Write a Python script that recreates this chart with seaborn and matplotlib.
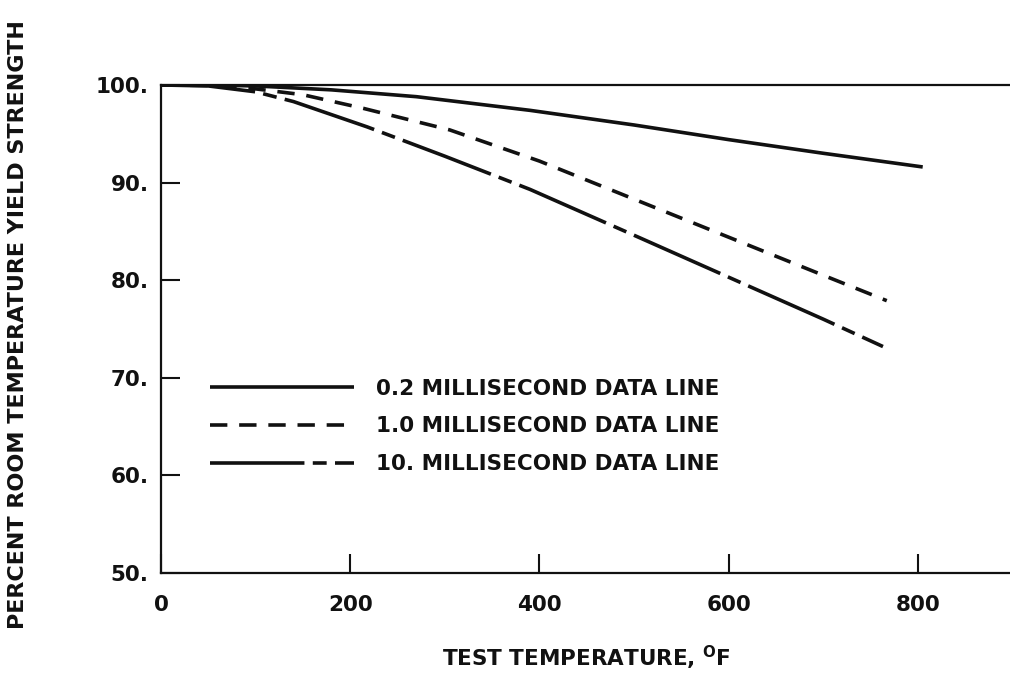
import matplotlib
matplotlib.use("Agg")
import matplotlib.pyplot as plt
import seaborn as sns
import pandas as pd

# Yield strength retained at temperature, for three hold times
temp_02ms = [0, 50, 100, 180, 270, 390, 500, 600, 700, 805]
pct_02ms = [100.0, 100.0, 99.9, 99.5, 98.8, 97.4, 95.9, 94.4, 93.0, 91.6]

temp_1ms = [0, 50, 100, 150, 214, 305, 400, 500, 600, 700, 767]
pct_1ms = [100.0, 99.95, 99.6, 99.0, 97.6, 95.4, 92.2, 88.3, 84.4, 80.5, 77.9]

temp_10ms = [0, 50, 100, 140, 218, 300, 390, 500, 600, 700, 763]
pct_10ms = [100.0, 99.9, 99.3, 98.3, 95.7, 92.7, 89.3, 84.6, 80.3, 76.0, 73.2]

series_labels = ["0.2 MILLISECOND DATA LINE",
                 "1.0 MILLISECOND DATA LINE",
                 "10. MILLISECOND DATA LINE"]
x_ticks = [0, 200, 400, 600, 800]
y_ticks = [50, 60, 70, 80, 90, 100]
y_tick_labels = ["50.", "60.", "70.", "80.", "90.", "100."]

sns.set_style("ticks")
plt.rcParams["font.family"] = ["DejaVu Sans"]
plt.rcParams["font.weight"] = "bold"
plt.rcParams["lines.scale_dashes"] = False
plt.rcParams["mathtext.fontset"] = "custom"
plt.rcParams["mathtext.bf"] = "DejaVu Sans:bold"
plt.rcParams["mathtext.rm"] = "DejaVu Sans:bold"

FS = 15.5
INK = "#111111"

fig = plt.figure(figsize=(10.10, 6.76), dpi=100)
fig.patch.set_facecolor("white")
ax = fig.add_axes([161 / 1010, 0.1524, 851.6 / 1010, 0.7219])

styles = ["-", (0, (12.5, 8.5)), (0, (68, 6, 10, 6))]
curves = [(temp_02ms, pct_02ms), (temp_1ms, pct_1ms), (temp_10ms, pct_10ms)]
for (tx, py), ls, lab in zip(curves, styles, series_labels):
    df = pd.DataFrame({"temp": tx, "pct": py})
    sns.lineplot(data=df, x="temp", y="pct", ax=ax, color=INK,
                 linewidth=2.6, linestyle=ls, label=lab, legend=False,
                 solid_capstyle="butt", dash_capstyle="butt")

ax.set_xlim(0, 900)
ax.set_ylim(50, 100)
ax.set_xticks(x_ticks)
ax.set_xticklabels([str(t) for t in x_ticks])
ax.set_yticks(y_ticks)
ax.set_yticklabels(y_tick_labels)

ax.tick_params(axis="both", direction="in", length=13.5, width=1.5,
               colors=INK, labelsize=FS)
ax.tick_params(axis="y", pad=9)
ax.tick_params(axis="x", pad=16)
for lbl in ax.get_xticklabels() + ax.get_yticklabels():
    lbl.set_fontweight("bold")

for side in ["left", "bottom", "top"]:
    ax.spines[side].set_linewidth(1.6)
    ax.spines[side].set_color(INK)
ax.spines["right"].set_visible(False)

ax.set_xlabel(r"TEST TEMPERATURE, $^{\mathbf{O}}$F", fontsize=FS,
              fontweight="bold", color=INK)
ax.xaxis.set_label_coords(0.5, -0.146)
ax.set_ylabel("PERCENT ROOM TEMPERATURE YIELD STRENGTH", fontsize=16.0,
              fontweight="bold", color=INK)
ax.yaxis.set_label_coords(-0.156, 0.51)

leg = ax.legend(handles=ax.get_lines()[:3], labels=series_labels,
                loc="upper left", bbox_to_anchor=(0.0575, 0.398),
                frameon=False, borderpad=0, borderaxespad=0,
                handlelength=6.7, handletextpad=1.0, labelspacing=0.82,
                prop={"size": FS, "weight": "bold"})
for t in leg.get_texts():
    t.set_color(INK)

fig.savefig("out.png", dpi=100, facecolor="white")
